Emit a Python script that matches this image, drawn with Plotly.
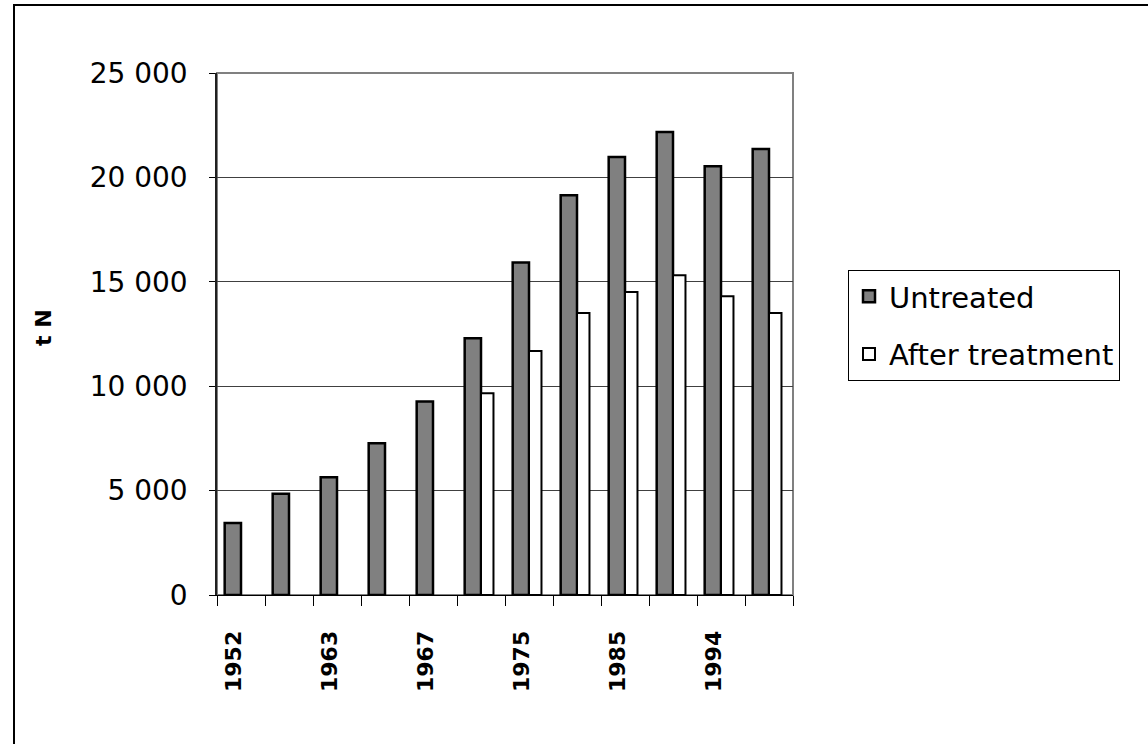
import plotly.graph_objects as go

# Nitrogen load (t N) per period, untreated vs after treatment
tick_labels = ["1952", "", "1963", "", "1967", "", "1975", "", "1985", "", "1994", ""]
untreated = [3450, 4850, 5640, 7270, 9270, 12300, 15930, 19140, 20980, 22180, 20530, 21360]
after_treatment = [None, None, None, None, None, 9660, 11680, 13500, 14510, 15310, 14310, 13500]
y_ticks = [0, 5000, 10000, 15000, 20000, 25000]

positions = list(range(len(tick_labels)))
label_pos = [p for p, t in zip(positions, tick_labels) if t]
label_txt = [t for t in tick_labels if t]

W, H = 1148, 744
L, R, T, B = 217, 355, 73, 149
pw, ph = W - L - R, H - T - B


def px_x(x):
    return (x - L) / pw


def px_y(y):
    return (H - B - y) / ph


fig = go.Figure()
fig.add_bar(
    x=positions, y=untreated, name="Untreated",
    offset=-0.34, width=0.34,
    marker=dict(color="#808080", line=dict(color="black", width=2.5)),
    legendgroup="u",
)
fig.add_bar(
    x=positions, y=after_treatment, name="After treatment",
    offset=0.0, width=0.26,
    marker=dict(color="white", line=dict(color="black", width=2)),
    legendgroup="a",
)

font_main = "DejaVu Sans, Liberation Sans, Arial, sans-serif"

fig.update_layout(
    width=W, height=H,
    margin=dict(l=L, r=R, t=T, b=B, autoexpand=False),
    paper_bgcolor="white", plot_bgcolor="white",
    separators=". ",
    font=dict(family=font_main, color="black"),
    barmode="overlay",
    showlegend=True,
    legend=dict(
        x=px_x(848), y=px_y(270), xanchor="left", yanchor="top",
        bordercolor="black", borderwidth=1, bgcolor="white",
        font=dict(family=font_main, size=29, color="black"),
        tracegroupgap=17, traceorder="grouped",
    ),
    xaxis=dict(
        range=[-0.5, len(positions) - 0.5],
        tickmode="array", tickvals=label_pos, ticktext=label_txt,
        tickangle=-90, ticks="",
        tickfont=dict(family="DejaVu Sans, sans-serif", size=22, color="black", weight="bold"),
        ticklabelstandoff=26, ticklabelshift=-7,
        minor=dict(tickmode="linear", tick0=-0.5, dtick=1, ticks="outside",
                   ticklen=10, tickcolor="black", tickwidth=1),
        showline=True, linecolor="black", linewidth=1,
        showgrid=False, zeroline=False, fixedrange=True,
    ),
    yaxis=dict(
        range=[0, 25000], tickmode="array", tickvals=y_ticks,
        tickformat=",d",
        ticks="outside", ticklen=6, tickcolor="black",
        tickfont=dict(family=font_main, size=28, color="black"),
        ticklabelstandoff=16,
        showline=True, linecolor="#202020", linewidth=1.5,
        showgrid=True, gridcolor="#404040", gridwidth=1,
        zeroline=False,
    ),
    annotations=[
        # y-axis unit label
        dict(text="<b>t N</b>", xref="paper", yref="paper",
             x=px_x(43), y=px_y(328), xanchor="center", yanchor="middle",
             textangle=-90, showarrow=False,
             font=dict(family="DejaVu Sans, sans-serif", size=22, color="black")),
    ],
    shapes=[
        # plot area frame (top and right edges)
        dict(type="rect", xref="paper", yref="paper", x0=0, y0=0, x1=1, y1=1,
             line=dict(color="#808080", width=2), layer="below"),
        # outer chart frame
        dict(type="rect", xref="paper", yref="paper",
             x0=px_x(14), y0=px_y(5), x1=px_x(1170), y1=px_y(770),
             line=dict(color="black", width=2), layer="below"),
    ],
)

fig.write_html("out.html")
